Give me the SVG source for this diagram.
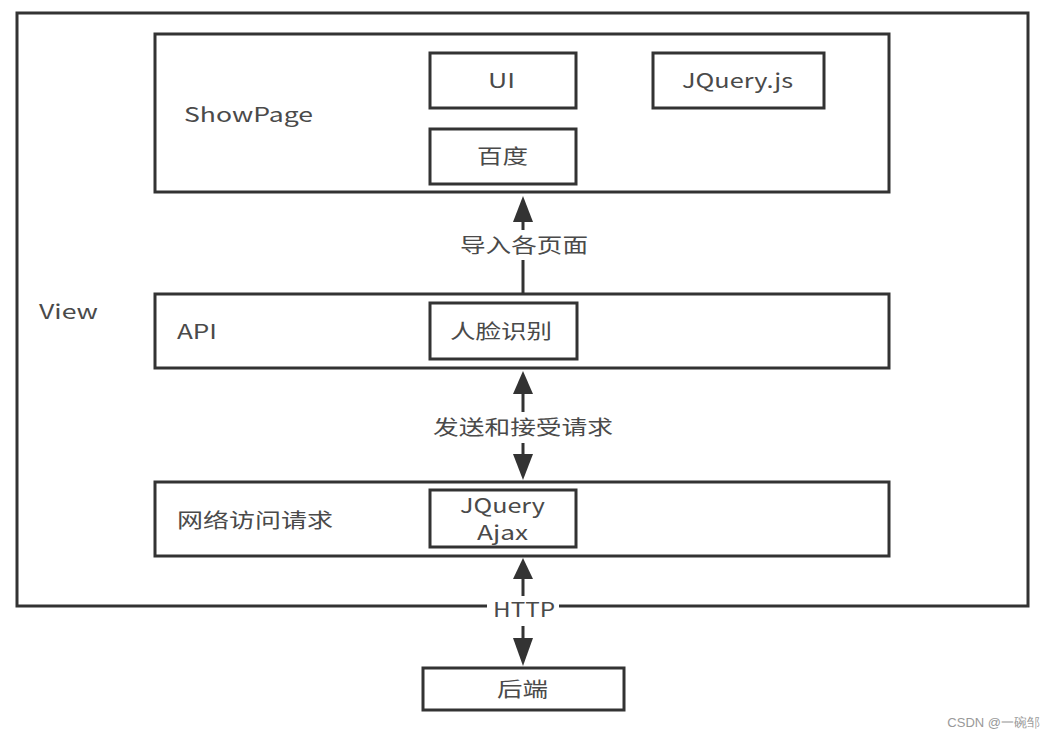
<svg xmlns="http://www.w3.org/2000/svg" width="1055" height="740" viewBox="0 0 1055 740">
<defs>
<style>
.box{fill:#fff;stroke:#333;stroke-width:3}
.t{font-family:"Noto Sans CJK SC","Microsoft YaHei",sans-serif;font-size:20px;fill:#4a4a4a}
.c{text-anchor:middle}
.ln{stroke:#333;stroke-width:3;fill:none}
.ah{fill:#333}
.lb{fill:#fff}
</style>
</defs>
<rect width="1055" height="740" fill="#fff"/>
<g id="view">
<rect class="box" x="17" y="13" width="1011" height="593"/>
<text class="t" x="39" y="319" textLength="59" lengthAdjust="spacingAndGlyphs">View</text>
</g>
<g id="showpage">
<rect class="box" x="155" y="34" width="734" height="158"/>
<text class="t" x="184" y="122" textLength="129" lengthAdjust="spacingAndGlyphs">ShowPage</text>
</g>
<g id="ui">
<rect class="box" x="430" y="53" width="146" height="55"/>
<text class="t" x="488" y="88" textLength="27" lengthAdjust="spacingAndGlyphs">UI</text>
</g>
<g id="jquery-js">
<rect class="box" x="653" y="53" width="171" height="55"/>
<text class="t" x="682" y="88" textLength="111" lengthAdjust="spacingAndGlyphs">JQuery.js</text>
</g>
<g id="baidu">
<rect class="box" x="430" y="129" width="146" height="55"/>
<text class="t" x="477" y="164" textLength="51" lengthAdjust="spacingAndGlyphs">百度</text>
</g>
<g id="api">
<rect class="box" x="155" y="294" width="734" height="74"/>
<text class="t" x="177" y="339" textLength="40" lengthAdjust="spacingAndGlyphs">API</text>
</g>
<g id="face">
<rect class="box" x="430" y="303" width="147" height="56"/>
<text class="t" x="450" y="339" textLength="102" lengthAdjust="spacingAndGlyphs">人脸识别</text>
</g>
<g id="network">
<rect class="box" x="155" y="482" width="734" height="74"/>
<text class="t" x="177" y="528" textLength="156" lengthAdjust="spacingAndGlyphs">网络访问请求</text>
</g>
<g id="ajax">
<rect class="box" x="430" y="490" width="146" height="57"/>
<text class="t" x="460" y="513" textLength="85" lengthAdjust="spacingAndGlyphs">JQuery</text>
<text class="t" x="477" y="540" textLength="51" lengthAdjust="spacingAndGlyphs">Ajax</text>
</g>
<g id="backend">
<rect class="box" x="423" y="668" width="201" height="42"/>
<text class="t" x="497" y="697" textLength="51" lengthAdjust="spacingAndGlyphs">后端</text>
</g>
<g id="connectors">
<line class="ln" x1="523" y1="294" x2="523" y2="260"/>
<line class="ln" x1="523" y1="230" x2="523" y2="215"/>
<polygon class="ah" points="523,196 533,222 513,222"/>
<text class="t" x="460" y="253" textLength="128" lengthAdjust="spacingAndGlyphs">导入各页面</text>
<line class="ln" x1="523" y1="390" x2="523" y2="412"/>
<polygon class="ah" points="523,371 533,394 513,394"/>
<line class="ln" x1="523" y1="443" x2="523" y2="458"/>
<polygon class="ah" points="523,480 533,454 513,454"/>
<text class="t" x="433" y="435" textLength="180" lengthAdjust="spacingAndGlyphs">发送和接受请求</text>
<line class="ln" x1="523" y1="575" x2="523" y2="596"/>
<polygon class="ah" points="523,558 533,579 513,579"/>
<line class="ln" x1="523" y1="626" x2="523" y2="642"/>
<polygon class="ah" points="523,666 533,638 513,638"/>
<rect class="lb" x="487" y="597" width="72" height="25"/>
<text class="t" x="493" y="617" textLength="62" lengthAdjust="spacingAndGlyphs">HTTP</text>
</g>
<text x="1040" y="727" text-anchor="end" font-family="Liberation Sans,sans-serif" font-size="13" fill="#999">CSDN @一碗邹</text>
</svg>
